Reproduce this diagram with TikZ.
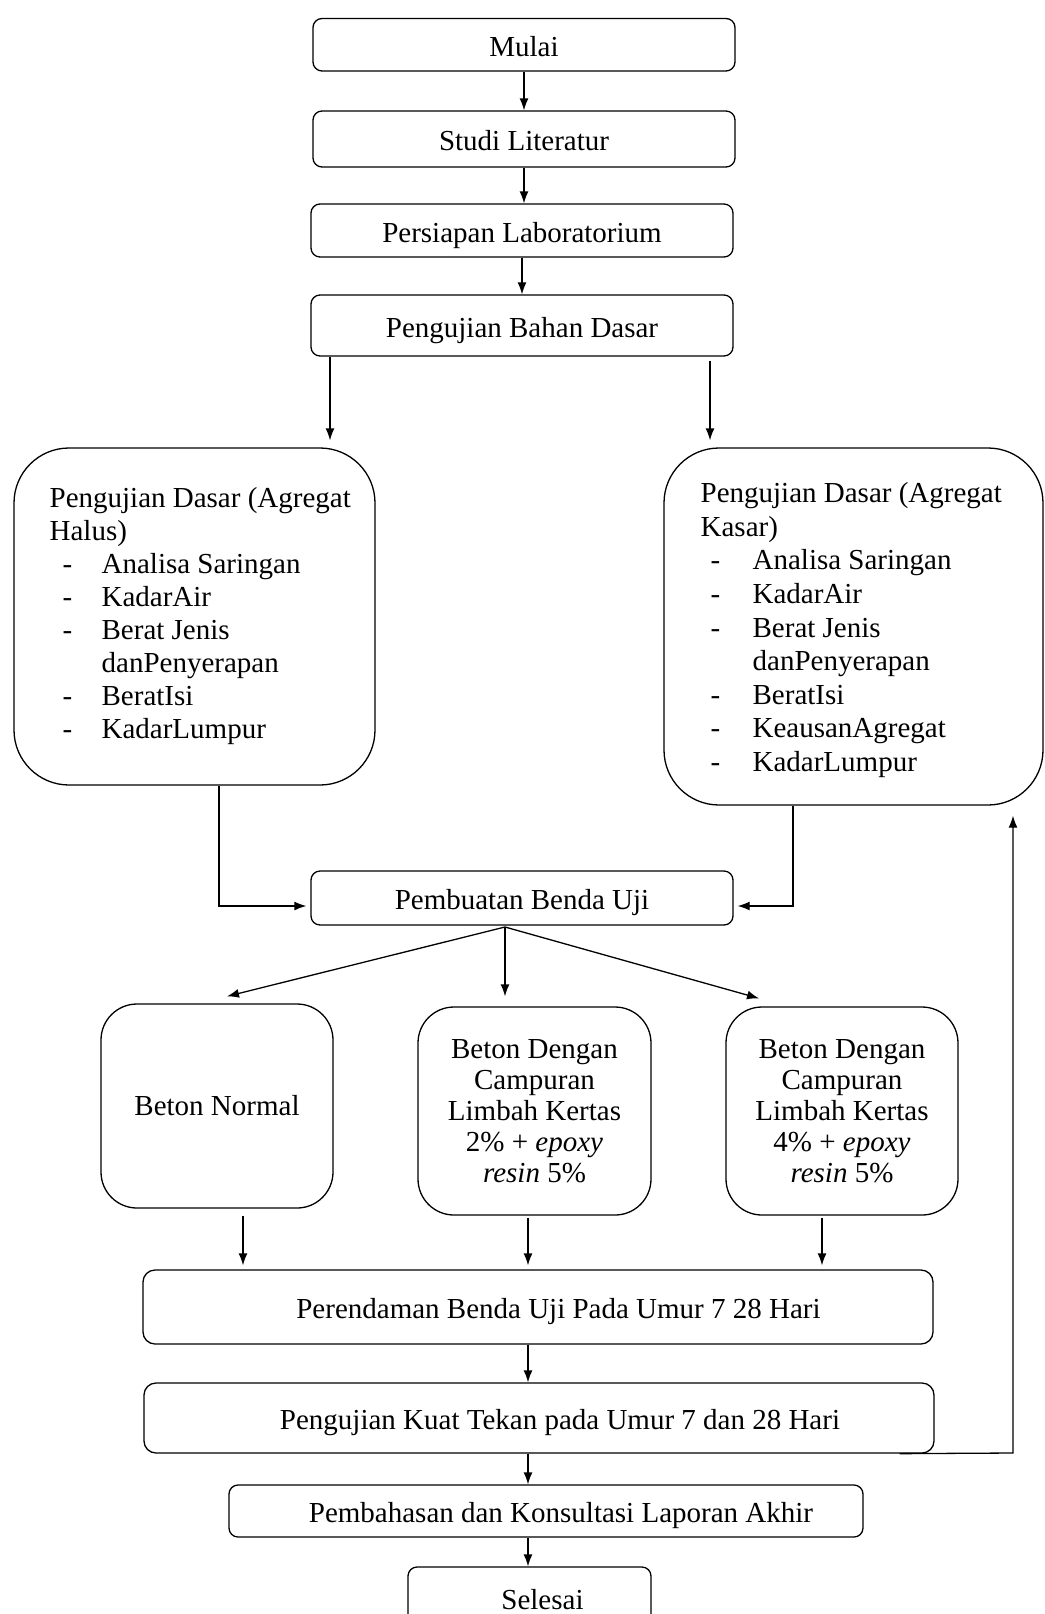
\documentclass[tikz,border=0pt]{standalone}
\usepackage{fontspec}
\setmainfont{Liberation Serif}
\usetikzlibrary{arrows.meta,calc}
\newcommand\fitem[2]{\makebox[52pt][l]{\hspace*{#1}-}#2}
\begin{document}
\begin{tikzpicture}[x=1pt,y=-1pt,line width=1.3pt,
  every node/.style={font=\fontsize{29}{33}\selectfont},
  flowbox/.style={draw, rounded corners=9pt, inner sep=0pt, text height=30pt, text depth=7pt},
  bigbox/.style={draw, rounded corners=55pt, inner sep=0pt},
  betonbox/.style={draw, rounded corners=36pt, inner sep=0pt, align=center, font=\fontsize{29}{31}\selectfont},
  txt/.style={anchor=north west, align=left, inner sep=0pt},
  arr/.style={-{Latex[length=12pt,width=9pt]}}]
\useasboundingbox (0,0) rectangle (1044,1614);
% boxes
\node[flowbox, minimum width=422, minimum height=52.5] (mulai) at (524,44.75) {Mulai};
\node[flowbox, minimum width=422, minimum height=56] (studi) at (524,139) {Studi Literatur};
\node[flowbox, minimum width=422, minimum height=53] (persiapan) at (522,230.5) {Persiapan Laboratorium};
\node[flowbox, minimum width=422, minimum height=61] (pbd) at (522,325.5) {Pengujian Bahan Dasar};
\node[bigbox, minimum width=361, minimum height=337] (halus) at (194.5,616.5) {};
\node[bigbox, minimum width=379, minimum height=357] (kasar) at (853.5,626.5) {};
\node[txt, font=\fontsize{29}{33}\selectfont] (halustxt) at (49,487) {Pengujian Dasar (Agregat\\Halus)\\
\fitem{13pt}{Analisa Saringan}\\\fitem{13pt}{KadarAir}\\\fitem{13pt}{Berat Jenis}\\
\hspace*{52pt}danPenyerapan\\\fitem{13pt}{BeratIsi}\\\fitem{13pt}{KadarLumpur}};
\node[txt, font=\fontsize{29}{33.6}\selectfont] (kasartxt) at (700,482) {Pengujian Dasar (Agregat\\Kasar)\\
\fitem{10pt}{Analisa Saringan}\\\fitem{10pt}{KadarAir}\\\fitem{10pt}{Berat Jenis}\\
\hspace*{52pt}danPenyerapan\\\fitem{10pt}{BeratIsi}\\\fitem{10pt}{KeausanAgregat}\\\fitem{10pt}{KadarLumpur}};
\node[flowbox, minimum width=422, minimum height=54] (pembuatan) at (522,898) {Pembuatan Benda Uji};
\node[betonbox, minimum width=232, minimum height=204] (normal) at (217,1106) {Beton Normal};
\node[betonbox, minimum width=233, minimum height=208] (mid) at (534.5,1111) {Beton Dengan\\Campuran\\Limbah Kertas\\2\% + \textit{epoxy}\\\textit{resin} 5\%};
\node[betonbox, minimum width=232, minimum height=208] (right) at (842,1111) {Beton Dengan\\Campuran\\Limbah Kertas\\4\% + \textit{epoxy}\\\textit{resin} 5\%};
\node[flowbox, rounded corners=12pt, minimum width=790, minimum height=74] (per) at (538,1307) {\hspace*{41pt}Perendaman Benda Uji Pada Umur 7 28 Hari};
\node[flowbox, rounded corners=12pt, minimum width=790, minimum height=70] (kuat) at (539,1418) {\hspace*{42pt}Pengujian Kuat Tekan pada Umur 7 dan 28 Hari};
\node[flowbox, minimum width=634, minimum height=52] (bahas) at (546,1511) {\hspace*{30pt}Pembahasan dan Konsultasi Laporan Akhir};
\node[flowbox, minimum width=243, minimum height=62] (selesai) at (529.5,1598) {\hspace*{26pt}Selesai};
% helper coordinates
\coordinate (pl) at (330,0);
\coordinate (pr) at (710,0);
\coordinate (hl) at (219,0);
\coordinate (hr) at (793,0);
\coordinate (fo) at (505,927);
\coordinate (c1) at (243,0);
\coordinate (c2) at (528,0);
\coordinate (c3) at (822,0);
\coordinate (ax) at (528,0);
\coordinate (fb) at (1013,1453);
% connectors
\draw[arr] (mulai.south) -- (studi.north);
\draw[arr] (studi.south) -- (studi.south |- persiapan.north);
\draw[arr] (persiapan.south) -- (pbd.north);
\draw[arr] (pbd.south -| pl) -- ($(halus.north -| pl)+(0,-7)$);
\draw[arr] ($(pbd.south -| pr)+(0,4)$) -- ($(kasar.north -| pr)+(0,-7)$);
\draw[arr] (halus.south -| hl) |- ($(pembuatan.west)+(-4,8)$);
\draw[arr] (kasar.south -| hr) |- ($(pembuatan.east)+(4,8)$);
\draw[arr] (fo) -- ($(normal.north)+(10,-7)$);
\draw[arr] (fo) -- ($(fo |- mid.north)+(0,-10)$);
\draw[arr] (fo) -- ($(right.north)+(-83,-8)$);
\draw[arr] ($(normal.south -| c1)+(0,7)$) -- ($(per.north -| c1)+(0,-4)$);
\draw[arr] ($(mid.south -| c2)+(0,2)$) -- ($(per.north -| c2)+(0,-4)$);
\draw[arr] ($(right.south -| c3)+(0,2)$) -- ($(per.north -| c3)+(0,-4)$);
\draw[arr] (per.south -| ax) -- (kuat.north -| ax);
\draw[arr] (kuat.south -| ax) -- (bahas.north -| ax);
\draw[arr] (bahas.south -| ax) -- (selesai.north -| ax);
\draw[arr] ($(kuat.south east)+(-35,0)$) -- (fb) -- ($(fb |- kasar.south)+(0,10)$);
\end{tikzpicture}
\end{document}
